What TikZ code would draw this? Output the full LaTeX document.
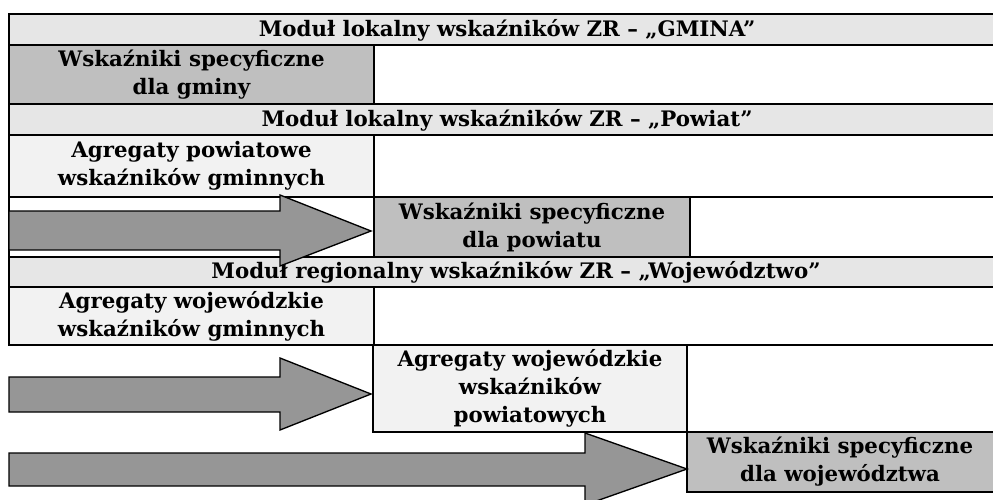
\documentclass[tikz,border=0pt]{standalone}
\usepackage{fontspec}
\setmainfont{DejaVu Serif}
\begin{document}
\begin{tikzpicture}[x=0.75pt,y=-0.75pt,
  txt/.style={font=\fontsize{16}{21}\selectfont\bfseries,align=center,inner sep=0pt},
  cell/.style={draw=black,line width=2pt,inner sep=0pt,outer sep=0pt},
  hdr/.style={cell,fill=hdrgray},
  spec/.style={cell,fill=specgray},
  aggr/.style={cell,fill=aggrgray},
  blank/.style={cell,fill=white},
  blockarrow/.style={draw=black,line width=1pt,fill=arrowgray,line join=miter}]
\definecolor{hdrgray}{RGB}{230,230,230}
\definecolor{specgray}{RGB}{191,191,191}
\definecolor{aggrgray}{RGB}{242,242,242}
\definecolor{arrowgray}{RGB}{150,150,150}
\path[use as bounding box,clip] (0,0) rectangle (993,500);
\newcommand{\cellat}[6]{%
  \node[#1,minimum width={(#4-#2)*0.75pt},minimum height={(#5-#3)*0.75pt},anchor=north west]
    (#6) at (#2,#3) {};}
% row 1 header
\cellat{hdr}{9}{14}{1010}{45}{h1}
% row 2
\cellat{spec}{9}{45}{374}{104}{gmina}
\cellat{blank}{374}{45}{1010}{104}{r2}
% row 3 header
\cellat{hdr}{9}{104}{1010}{135}{h2}
% row 4
\cellat{aggr}{9}{135}{374}{197}{agpow}
\cellat{blank}{374}{135}{1010}{197}{r4}
% row 5
\cellat{blank}{9}{197}{374}{257}{r5l}
\cellat{spec}{374}{197}{690}{257}{powiat}
\cellat{blank}{690}{197}{1010}{257}{r5r}
% row 6 header
\cellat{hdr}{9}{257}{1010}{287}{h3}
% row 7
\cellat{aggr}{9}{287}{374}{345}{agwojg}
\cellat{blank}{374}{287}{1010}{345}{r7}
% row 8
\cellat{aggr}{373}{345}{687}{432}{agwojp}
\cellat{blank}{687}{345}{1010}{432}{r8}
% row 9
\cellat{spec}{687}{432}{1010}{492}{woj}
% texts
\node[txt] (t1) at (507,30) {Moduł lokalny wskaźników ZR – „GMINA”};
\node[txt] (t2) at (507,120) {Moduł lokalny wskaźników ZR – „Powiat”};
\node[txt] (t3) at (516,272) {Moduł regionalny wskaźników ZR – „Województwo”};
\node[txt] (tg) at (gmina.center) {Wskaźniki specyficzne\\dla gminy};
\node[txt] (tap) at (agpow.center) {Agregaty powiatowe\\wskaźników gminnych};
\node[txt] (tp) at (powiat.center) {Wskaźniki specyficzne\\dla powiatu};
\node[txt] (tag) at (agwojg.center) {Agregaty wojewódzkie\\wskaźników gminnych};
\node[txt] (tawp) at (agwojp.center) {Agregaty wojewódzkie\\wskaźników\\powiatowych};
\node[txt] (tw) at (840,462) {Wskaźniki specyficzne\\dla województwa};
% block arrows
\draw[blockarrow] (9,211) -- (280,211) -- (280,195) -- (371,231) -- (280,266) -- (280,250) -- (9,250) -- cycle;
\draw[blockarrow] (9,377) -- (280,377) -- (280,358) -- (371,394) -- (280,430) -- (280,412) -- (9,412) -- cycle;
\draw[blockarrow] (9,453) -- (585,453) -- (585,433) -- (687,469) -- (585,505) -- (585,486) -- (9,486) -- cycle;
\end{tikzpicture}
\end{document}
